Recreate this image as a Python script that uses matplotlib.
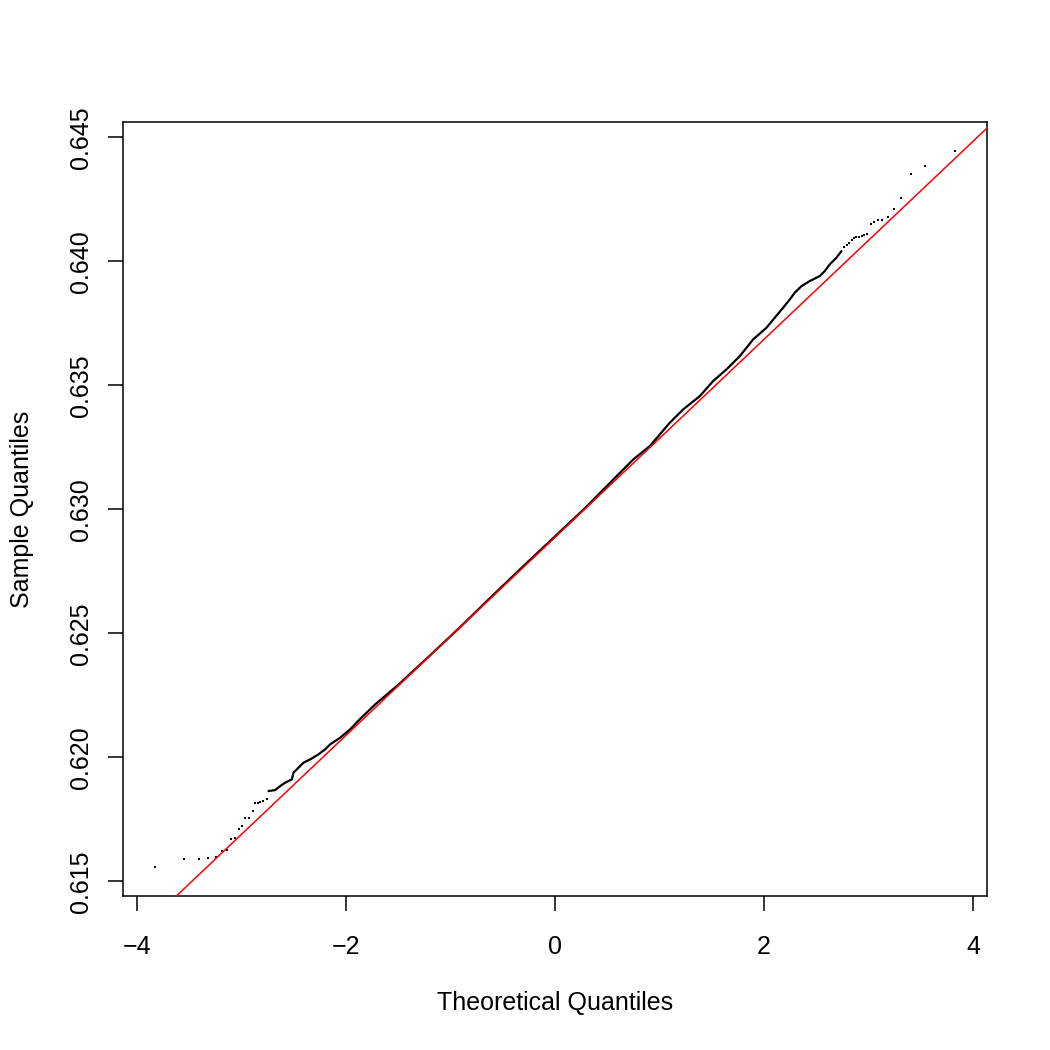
import matplotlib
matplotlib.use("Agg")
import matplotlib.pyplot as plt
import numpy as np

plt.rcParams['font.family'] = ['Liberation Sans', 'DejaVu Sans']

# Sparse lower-tail points (theoretical quantile, sample quantile)
low_theo = [-3.827, -3.547, -3.410, -3.316, -3.241, -3.185, -3.139, -3.098, -3.059,
            -3.024, -2.992, -2.964, -2.923, -2.894, -2.868, -2.846, -2.820, -2.789, -2.756]
low_samp = [0.615565, 0.615887, 0.615907, 0.615948, 0.615980, 0.616210, 0.616282,
            0.616722, 0.616746, 0.617097, 0.617218, 0.617540, 0.617569, 0.617835,
            0.618145, 0.618173, 0.618198, 0.618238, 0.618306]

# Dense central body (points overlap into a continuous band)
mid_theo = [-2.741, -2.677, -2.629, -2.581, -2.517, -2.502, -2.454, -2.406, -2.342,
            -2.263, -2.199, -2.151, -2.055, -1.960, -1.864, -1.720, -1.500, -1.200,
            -0.900, -0.600, -0.300, 0.000, 0.300, 0.550, 0.750, 0.908, 1.099, 1.227,
            1.386, 1.513, 1.641, 1.769, 1.896, 2.024, 2.103, 2.183, 2.247, 2.294,
            2.359, 2.438, 2.533, 2.581, 2.629, 2.693, 2.741]
mid_samp = [0.618641, 0.618681, 0.618843, 0.618980, 0.619113, 0.619383, 0.619585,
            0.619786, 0.619919, 0.620121, 0.620323, 0.620524, 0.620794, 0.621129,
            0.621552, 0.622137, 0.622923, 0.624093, 0.625282, 0.626512, 0.627722,
            0.628911, 0.630101, 0.631170, 0.632016, 0.632553, 0.633496, 0.634032,
            0.634569, 0.635173, 0.635645, 0.636181, 0.636855, 0.637327, 0.637730,
            0.638133, 0.638468, 0.638738, 0.639004, 0.639206, 0.639408, 0.639609,
            0.639879, 0.640149, 0.640416]

# Sparse upper-tail points
up_theo = [2.763, 2.789, 2.814, 2.839, 2.865, 2.884, 2.909, 2.935, 2.961, 2.989,
           3.021, 3.056, 3.095, 3.133, 3.184, 3.241, 3.311, 3.403, 3.544, 3.824]
up_samp = [0.640593, 0.640674, 0.640754, 0.640847, 0.640956, 0.640968, 0.640997,
           0.641037, 0.641061, 0.641102, 0.641505, 0.641573, 0.641666, 0.641682,
           0.641803, 0.642126, 0.642569, 0.643521, 0.643844, 0.644464]

# qqline through the quartiles
q_theo = [-0.6745, 0.6745]
q_samp = [0.626178, 0.631564]

x_ticks = [-4, -2, 0, 2, 4]
y_ticks = [0.615, 0.620, 0.625, 0.630, 0.635, 0.640, 0.645]

W = H = 1050
fig = plt.figure(figsize=(W / 100, H / 100), dpi=100)
ax = fig.add_axes([123 / W, (H - 896) / H, 864 / W, 774 / H])

ax.plot(low_theo, low_samp, linestyle='none', marker='s', ms=1.9, mew=0,
        color='black')
ax.plot(up_theo, up_samp, linestyle='none', marker='s', ms=1.9, mew=0,
        color='black')
ax.plot(mid_theo, mid_samp, color='black', lw=1.6, solid_capstyle='round',
        solid_joinstyle='round')
ax.axline((q_theo[0], q_samp[0]), (q_theo[1], q_samp[1]), color='#FF0000', lw=1.1,
          zorder=5)

all_x = np.array(low_theo + mid_theo + up_theo)
all_y = np.array(low_samp + mid_samp + up_samp)
xr = max(abs(all_x.min()), abs(all_x.max()))
xmin, xmax = -xr, xr
ymin, ymax = all_y.min(), all_y.max()
ax.set_xlim(xmin - 0.04 * (xmax - xmin), xmax + 0.04 * (xmax - xmin))
ax.set_ylim(ymin - 0.04 * (ymax - ymin), ymax + 0.04 * (ymax - ymin))

ax.set_xticks(x_ticks)
ax.set_xticklabels([("\u2212%d" % -t) if t < 0 else "%d" % t for t in x_ticks])
ax.set_yticks(y_ticks)
ax.set_yticklabels(["%.3f" % t for t in y_ticks])

for s in ax.spines.values():
    s.set_linewidth(1.1)
    s.set_color('black')

ax.tick_params(axis='both', direction='out', length=10.8, width=1.1,
               labelsize=18, colors='black')
ax.tick_params(axis='x', pad=17)
ax.tick_params(axis='y', pad=11)
for lab in ax.get_yticklabels():
    lab.set_rotation(90)
    lab.set_va('center')
    lab.set_ha('right')

fig.text(555 / W, 1 - 1010 / H, 'Theoretical Quantiles', ha='center', va='baseline',
         fontsize=18)
fig.text(29 / W, 1 - 509 / H, 'Sample Quantiles', ha='center', va='baseline',
         rotation=90, rotation_mode='anchor', fontsize=18)

fig.savefig('out.png', dpi=100, facecolor='white')
